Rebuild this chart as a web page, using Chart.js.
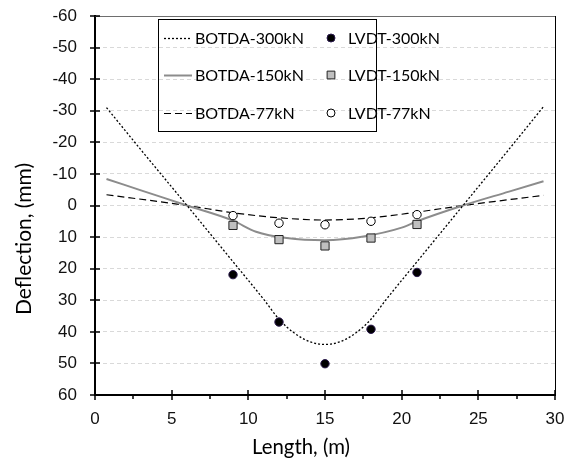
<!DOCTYPE html>
<html><head><meta charset="utf-8">
<script src="https://cdn.jsdelivr.net/npm/chart.js@4.4.1/dist/chart.umd.min.js"></script>
<style>html,body{margin:0;padding:0;background:#fff;}#wrap{width:574px;height:461px;position:relative;}</style>
</head><body><div id="wrap"><canvas id="c" width="574" height="461"></canvas></div>
<script>
// ---- data ----
const xTicks = [0, 5, 10, 15, 20, 25, 30];
const xMinorTicks = [2.5, 7.5, 12.5, 17.5, 22.5, 27.5];
const yTicks = [-60, -50, -40, -30, -20, -10, 0, 10, 20, 30, 40, 50, 60];

const botda300X = [0.75, 3, 6, 9, 11, 12, 13, 14, 15, 16, 17, 18, 19, 21, 24, 27, 29.25];
const botda300Y = [-31, -17.6, 0, 17.8, 29.7, 36, 40.4, 43.1, 44, 43.1, 40.4, 36, 29.7, 17.8, 0, -17.8, -31.3];
const botda150X = [0.75, 3, 6, 9, 10.5, 12.5, 15, 17.5, 20, 21, 24, 27, 29.25];
const botda150Y = [-8.4, -4.8, 0, 4.8, 8.3, 10.3, 11, 9.8, 7.0, 5.0, 0, -4.4, -7.7];
const botda77X = [0.75, 6, 9, 12, 15, 18, 21, 24, 29.25];
const botda77Y = [-3.4, 0, 2.3, 3.9, 4.6, 3.9, 2.1, 0, -3.2];

const lvdtX = [9, 12, 15, 18, 21];
const lvdt300 = [21.9, 36.9, 50.1, 39.2, 21.2];
const lvdt150 = [6.3, 10.8, 12.8, 10.3, 6.0];
const lvdt77 = [3.2, 5.6, 6.1, 5.0, 2.9];

const xTitle = 'Length, (m)';
const yTitle = 'Deflection, (mm)';

const pts = (xs, ys) => xs.map((v, i) => ({x: v, y: ys[i]}));

const TICK_FONT = {family: '"Liberation Sans", Arial, sans-serif', size: 17};
const TEXT_FAMILY = 'Lato, "Open Sans", sans-serif';

const dsLvdt300 = {label: 'LVDT-300kN', data: pts(lvdtX, lvdt300), showLine: false, pointStyle: 'circle', pointRadius: 4.2, pointBorderWidth: 1, pointBackgroundColor: '#000', pointBorderColor: '#2b1a4d'};
const dsLvdt150 = {label: 'LVDT-150kN', data: pts(lvdtX, lvdt150), showLine: false, pointStyle: 'rect', pointRadius: 5.8, pointBorderWidth: 1, pointBackgroundColor: '#bfbfbf', pointBorderColor: '#222'};
const dsLvdt77 = {label: 'LVDT-77kN', data: pts(lvdtX, lvdt77), showLine: false, pointStyle: 'circle', pointRadius: 4.2, pointBorderWidth: 1, pointBackgroundColor: '#fff', pointBorderColor: '#000'};
const dsB300 = {label: 'BOTDA-300kN', data: pts(botda300X, botda300Y), showLine: true, borderColor: '#000', borderWidth: 1.3, borderDash: [2, 2], pointRadius: 0, cubicInterpolationMode: 'monotone', fill: false};
const dsB150 = {label: 'BOTDA-150kN', data: pts(botda150X, botda150Y), showLine: true, borderColor: '#8c8c8c', borderWidth: 2, pointRadius: 0, cubicInterpolationMode: 'monotone', fill: false};
const dsB77 = {label: 'BOTDA-77kN', data: pts(botda77X, botda77Y), showLine: true, borderColor: '#000', borderWidth: 1.2, borderDash: [7, 4], pointRadius: 0, cubicInterpolationMode: 'monotone', fill: false};

const legendRows = [[dsB300, dsLvdt300], [dsB150, dsLvdt150], [dsB77, dsLvdt77]];

function fitFont(ctx, text, target, base) {
  ctx.font = base + 'px ' + TEXT_FAMILY;
  const w = ctx.measureText(text).width;
  return base * target / w;
}

const deco = {
  id: 'deco',
  afterDraw(chart) {
    const {ctx, chartArea: a, scales: {x, y}} = chart;
    const line = (x1, y1, x2, y2) => { ctx.beginPath(); ctx.moveTo(x1, y1); ctx.lineTo(x2, y2); ctx.stroke(); };
    ctx.save();
    ctx.setLineDash([]);
    // frame top / right
    ctx.lineWidth = 1;
    ctx.strokeStyle = '#6e6e6e';
    line(a.left, Math.round(a.top) + 0.5, a.right, Math.round(a.top) + 0.5);
    ctx.strokeStyle = '#000';
    line(Math.round(a.right) + 0.5, a.top, Math.round(a.right) + 0.5, a.bottom);
    // tick marks
    ctx.lineWidth = 1.5;
    const ax = Math.round(a.left);
    const ay = Math.round(a.bottom);
    yTicks.forEach(v => { const p = Math.round(y.getPixelForValue(v)); line(ax - 5, p, ax + 5, p); });
    xTicks.forEach(v => { const p = Math.round(x.getPixelForValue(v)); line(p, ay - 5, p, ay + 5); });
    xMinorTicks.forEach(v => { const p = Math.round(x.getPixelForValue(v)); line(p, ay, p, ay + 4); });

    // legend
    ctx.lineWidth = 1;
    ctx.strokeStyle = '#000';
    ctx.strokeRect(158.5, 19.5, 218, 112);
    const rowsY = [38, 75, 113];
    ctx.font = '16px ' + TEXT_FAMILY;
    ctx.fillStyle = '#000';
    ctx.textBaseline = 'alphabetic';
    ctx.textAlign = 'left';
    legendRows.forEach((row, i) => {
      const ry = rowsY[i];
      const [ln, mk] = row;
      ctx.save();
      ctx.strokeStyle = ln.borderColor;
      ctx.lineWidth = ln.borderWidth;
      ctx.setLineDash(ln.borderDash || []);
      line(164, ry + 0.5, 192, ry + 0.5);
      ctx.restore();
      ctx.fillStyle = '#000';
      ctx.fillText(ln.label, 195, ry + 6.3);
      ctx.save();
      ctx.fillStyle = mk.pointBackgroundColor;
      ctx.strokeStyle = mk.pointBorderColor;
      ctx.lineWidth = mk.pointBorderWidth;
      Chart.helpers.drawPoint(ctx, {pointStyle: mk.pointStyle, radius: mk.pointStyle === 'rect' ? 5.5 : 4, borderWidth: 1, rotation: 0}, 331, ry);
      ctx.restore();
      ctx.fillStyle = '#000';
      ctx.fillText(mk.label, 348, ry + 6.3);
    });

    // axis titles
    ctx.fillStyle = '#000';
    let fs = fitFont(ctx, xTitle, 98, 20);
    ctx.font = fs.toFixed(2) + 'px ' + TEXT_FAMILY;
    ctx.textAlign = 'center';
    ctx.fillText(xTitle, 301, 454);
    fs = fitFont(ctx, yTitle, 152, 20);
    ctx.font = fs.toFixed(2) + 'px ' + TEXT_FAMILY;
    ctx.save();
    ctx.translate(31, 239);
    ctx.rotate(-Math.PI / 2);
    ctx.fillText(yTitle, 0, 0);
    ctx.restore();
    ctx.restore();
  }
};

new Chart(document.getElementById('c'), {
  type: 'scatter',
  data: {datasets: [dsLvdt300, dsLvdt150, dsLvdt77, dsB300, dsB150, dsB77]},
  options: {
    responsive: false,
    animation: false,
    devicePixelRatio: 1,
    layout: {padding: {left: 0, right: 19, top: 16, bottom: 0}},
    plugins: {legend: {display: false}, tooltip: {enabled: false}},
    scales: {
      x: {
        type: 'linear', min: 0, max: 30,
        afterBuildTicks: s => { s.ticks = xTicks.map(v => ({value: v})); },
        afterFit: s => { s.height = 66; s.paddingLeft = 0; s.paddingRight = 0; s.paddingTop = 0; s.paddingBottom = 0; },
        grid: {display: true, drawOnChartArea: false, drawTicks: false},
        border: {display: true, color: '#000', width: 2},
        ticks: {font: TICK_FONT, color: '#111', padding: 14, maxRotation: 0}
      },
      y: {
        type: 'linear', min: -60, max: 60, reverse: true,
        afterBuildTicks: s => { s.ticks = yTicks.map(v => ({value: v})); },
        afterFit: s => { s.width = 95; s.paddingLeft = 0; s.paddingRight = 0; s.paddingTop = 0; s.paddingBottom = 0; },
        grid: {display: true, drawOnChartArea: true, drawTicks: false, color: '#d9d9d9', lineWidth: 1},
        border: {display: true, color: '#000', width: 2, dash: [4, 3]},
        ticks: {font: TICK_FONT, color: '#111', padding: 18}
      }
    }
  },
  plugins: [deco]
});
</script></body></html>
